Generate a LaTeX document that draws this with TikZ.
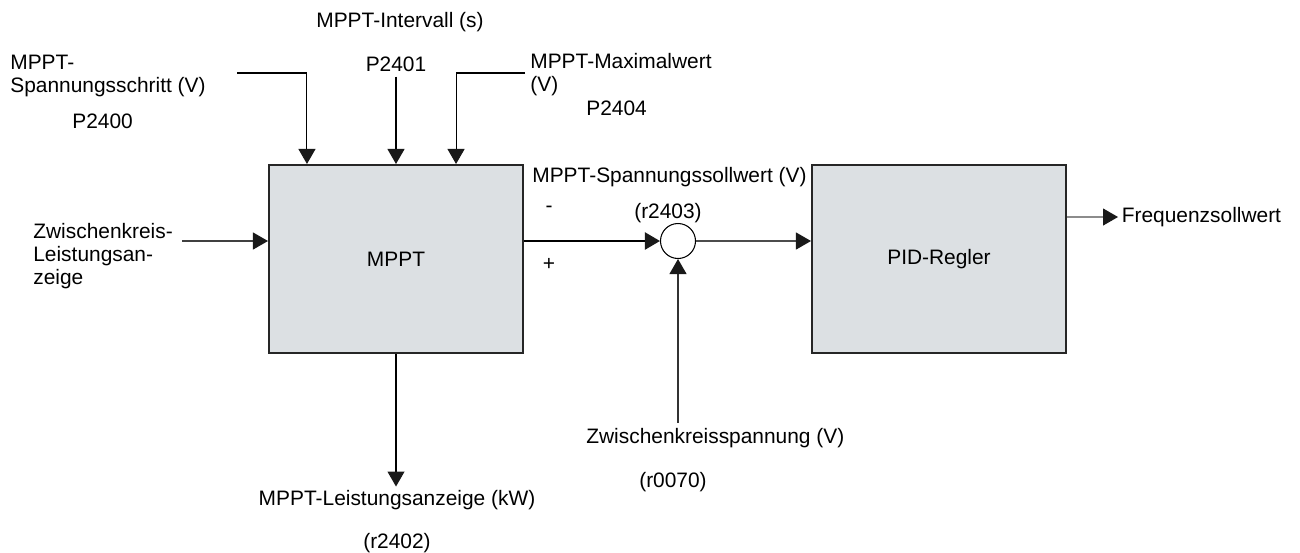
\documentclass[tikz,border=0pt]{standalone}
\usepackage{fontspec}
\setmainfont{Liberation Sans}
\usetikzlibrary{arrows.meta, positioning, calc}
\definecolor{blockgray}{HTML}{DCE0E3}

\begin{document}
\begin{tikzpicture}[
  x=0.02cm, y=-0.02cm,
  font=\fontsize{11.9}{13.2}\selectfont,
  block/.style={draw=black!85, line width=1.2pt, fill=blockgray, minimum width=5.08cm, minimum height=3.76cm},
  lbl/.style={inner sep=0pt, align=left},
  arrow/.style={-{Triangle[length=3mm, width=3.4mm, color=black!90]}, line width=0.6pt}
]
  \useasboundingbox (0,0) rectangle (1300,552);

  % Blocks
  \node[block] (mppt) at (396,259) {MPPT};
  \node[block, right=5.74cm of mppt] (pid) {PID-Regler};
  \node[draw, circle, minimum size=0.7cm, line width=0.6pt, fill=white] (sum) at (678,241) {};

  % Parameters (top)
  \node[lbl, anchor=base] (intervall) at (400,27) {MPPT-Intervall (s)};
  \node[lbl, anchor=base] (p2401) at (396,71) {P2401};
  \node[lbl, anchor=north west] (schritt) at (10,55) {MPPT-\\Spannungsschritt (V)};
  \node[lbl, anchor=base west] (p2400) at (72,128) {P2400};
  \node[lbl, anchor=north west] (maxwert) at (530,53) {MPPT-Maximalwert\\(V)};
  \node[lbl, anchor=base west] (p2404) at (586,115) {P2404};

  \coordinate (schritt-end) at (237,73);
  \coordinate (maxwert-end) at (525,73);
  \coordinate (mppt-in1) at ([xshift=0.78cm]mppt.north west);
  \coordinate (mppt-in3) at ([xshift=-1.36cm]mppt.north east);

  \draw[arrow] (schritt-end) -| (mppt-in1);
  \draw[arrow] ([yshift=-0.1cm]p2401.south) -- (mppt.north);
  \draw[arrow] (maxwert-end) -| (mppt-in3);

  % Left input
  \node[lbl, anchor=north west] (zklst) at (33,223) {Zwischenkreis-\\Leistungsan-\\zeige};
  \coordinate (zklst-end) at (182,241);
  \draw[arrow, black!75] (zklst-end) -- (zklst-end -| mppt.west);

  % Summing point
  \draw[arrow, line width=1.2pt] (mppt.east |- sum) -- (sum.west);
  \node[lbl, anchor=base west] (sollwert) at (532,182) {MPPT-Spannungssollwert (V)};
  \node[lbl, anchor=base] (r2403) at (668,218) {(r2403)};
  \node[lbl] (minus) at (549,209) {-};
  \node[lbl] (plus) at (549,264) {+};
  \draw[arrow, black!70] (sum.east) -- (pid.west |- sum);

  \node[lbl, anchor=base west] (zkspg) at (586,443) {Zwischenkreisspannung (V)};
  \node[lbl, anchor=base] (r0070) at (673,487) {(r0070)};
  \coordinate (zkspg-end) at (678,423);
  \draw[arrow, black!80] (zkspg-end) -- (sum.south);

  % Outputs
  \node[lbl, anchor=base] (lstanz) at (397,505) {MPPT-Leistungsanzeige (kW)};
  \node[lbl, anchor=base] (r2402) at (397,548) {(r2402)};
  \draw[arrow] (mppt.south) -- ([yshift=0.06cm]mppt.south |- lstanz.north);

  \node[lbl, anchor=west, inner sep=2pt] (freq) at (1118,217) {Frequenzsollwert};
  \draw[arrow, black!45] (pid.east |- freq) -- (freq.west);
\end{tikzpicture}
\end{document}
